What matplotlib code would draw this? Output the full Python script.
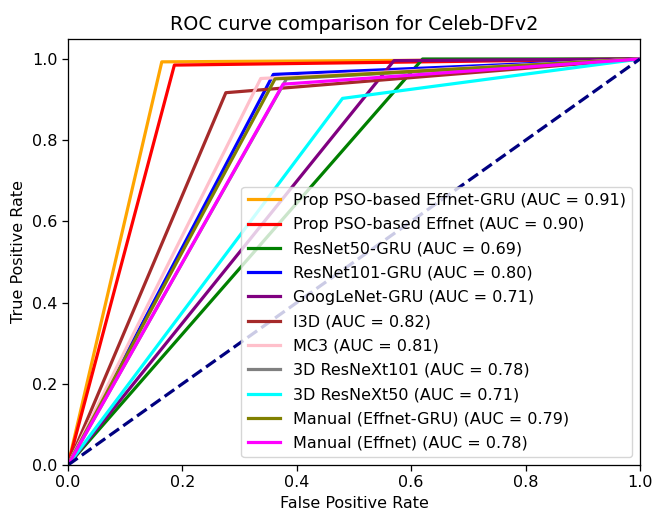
import numpy as np
import matplotlib
matplotlib.use("Agg")
import matplotlib.pyplot as plt

# operating points (FPR, TPR) of each classifier on Celeb-DFv2
models = [
    "Prop PSO-based Effnet-GRU",
    "Prop PSO-based Effnet",
    "ResNet50-GRU",
    "ResNet101-GRU",
    "GoogLeNet-GRU",
    "I3D",
    "MC3",
    "3D ResNeXt101",
    "3D ResNeXt50",
    "Manual (Effnet-GRU)",
    "Manual (Effnet)",
]
fpr_points = [0.164, 0.186, 0.620, 0.359, 0.570, 0.276, 0.337, 0.382, 0.480, 0.362, 0.376]
tpr_points = [0.993, 0.985, 1.000, 0.962, 0.996, 0.917, 0.952, 0.951, 0.903, 0.951, 0.938]
auc_labels = [0.91, 0.90, 0.69, 0.80, 0.71, 0.82, 0.81, 0.78, 0.71, 0.79, 0.78]
colors = ["orange", "red", "green", "blue", "purple", "brown",
          "pink", "gray", "cyan", "olive", "magenta"]

scale = 1.15
plt.rcParams["font.size"] = 10 * scale

fig, ax = plt.subplots(figsize=(6.55, 5.14), dpi=100)
plt.subplots_adjust(left=0.1038, right=0.977, bottom=0.0953, top=0.9247)

for name, f, t, auc, c in zip(models, fpr_points, tpr_points, auc_labels, colors):
    ax.plot([0, f, 1], [0, t, 1], color=c, lw=2 * scale,
            label=f"{name} (AUC = {auc:.2f})")

ax.plot([0, 1], [0, 1], color="navy", lw=2 * scale, linestyle="--")
ax.set_xlim(0.0, 1.0)
ax.set_ylim(0.0, 1.05)
ax.set_xlabel("False Positive Rate", fontsize=10 * scale)
ax.set_ylabel("True Positive Rate", fontsize=10 * scale)
ax.set_title("ROC curve comparison for Celeb-DFv2", fontsize=12 * scale)
ax.tick_params(labelsize=10 * scale, width=0.8 * scale, length=3.5 * scale)
for s in ax.spines.values():
    s.set_linewidth(0.8 * scale)
ax.legend(loc="lower right", fontsize=10 * scale, labelspacing=0.58)

plt.savefig("out.png", dpi=100)
